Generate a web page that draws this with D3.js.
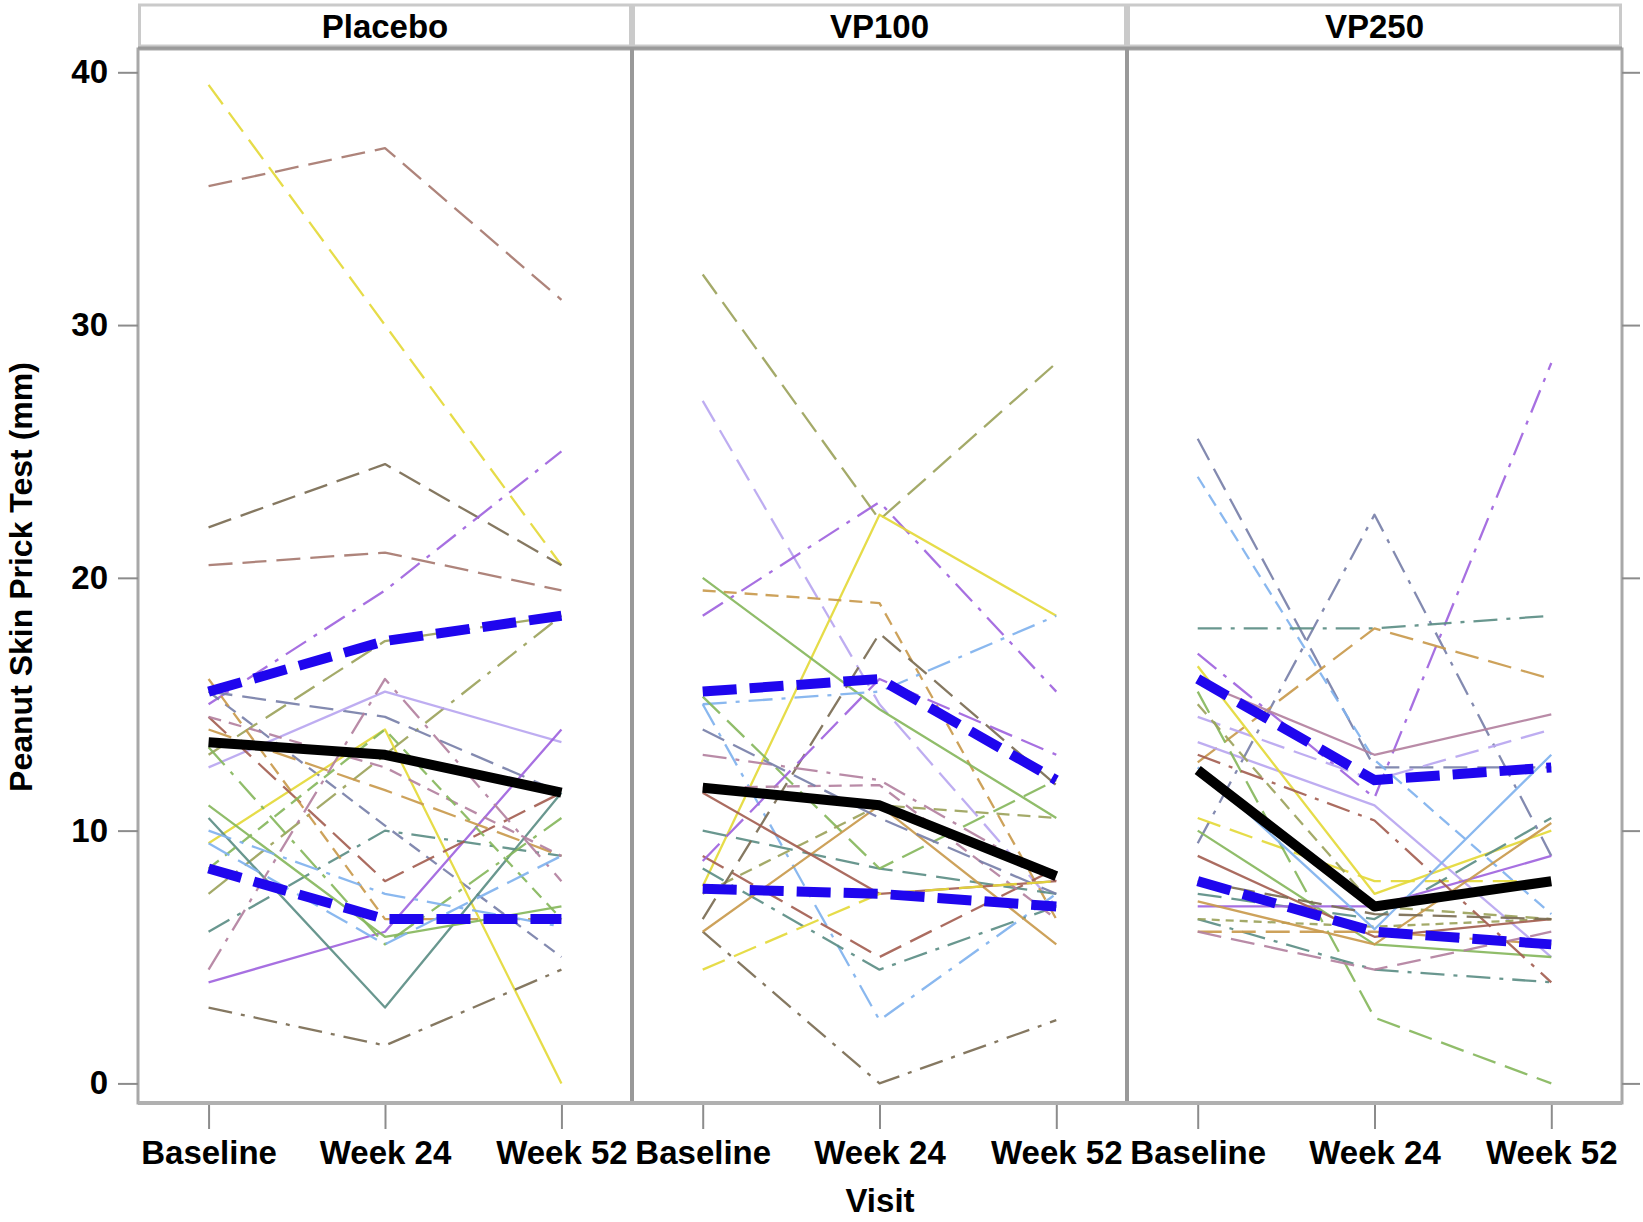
<!DOCTYPE html>
<html>
<head>
<meta charset="utf-8">
<script src="https://cdn.jsdelivr.net/npm/d3@7"></script>
<style>
  html, body { margin: 0; padding: 0; background: #fff; }
  svg { display: block; }
  text { font-family: "Liberation Sans", Arial, Helvetica, sans-serif; font-weight: bold; fill: #000; }
</style>
</head>
<body>
<svg id="chart" width="1643" height="1222"></svg>
<script>
// ---------------- DATA ----------------
const visits = ["Baseline", "Week 24", "Week 52"];
const groups = ["Placebo", "VP100", "VP250"];
const yTicks = [0, 10, 20, 30, 40];
const yTitle = "Peanut Skin Prick Test (mm)";
const xTitle = "Visit";

// individual subjects (Baseline, Week 24, Week 52)
const placeboSubjects = [
  [39.5, 30, 20.5], [35.5, 37, 31], [22, 24.5, 20.5], [15, 19.5, 25], [20.5, 21, 19.5],
  [13, 17.5, 18.5], [7.5, 13, 18.5], [15.5, 14.5, 11.5], [15.5, 10.2, 5], [12.5, 15.5, 13.5],
  [9.5, 14, 0], [4, 6, 14], [10.5, 3, 11.5], [6, 10, 9], [14.5, 8, 11.5],
  [14, 11.6, 9], [16, 6.5, 6.5], [4.5, 16, 8], [14.5, 12.5, 9], [13.3, 5.5, 10.5],
  [8.5, 14, 6.5], [11, 5.8, 7], [10, 7.5, 6.2], [9.5, 5.5, 9], [3, 1.5, 4.5]
];
const vp100Subjects = [
  [32, 22.3, 28.5], [27, 15, 7], [18.5, 23, 15.5], [7.8, 22.5, 18.5], [19.5, 19, 6.5],
  [20, 14.8, 10.5], [15, 15.5, 18.5], [6, 0, 2.5], [15, 2.5, 7.5], [8.5, 4.5, 7],
  [9, 5, 8.5], [10, 8.5, 7.5], [15.3, 8.5, 12], [7.5, 11, 10.5], [6, 11, 5.5],
  [6.5, 17.8, 11.8], [8.8, 16, 13], [13, 12, 8], [11.7, 11.8, 6.5], [14, 10.5, 7.5],
  [11.5, 7.5, 8], [4.5, 7.5, 8]
];
const vp250Subjects = [
  [25.5, 12.5, 12.5], [9.5, 22.5, 9], [17, 11.3, 28.5], [24, 12.8, 6.7], [18, 18, 18.5],
  [12.7, 18, 16], [15.9, 13, 14.6], [14.5, 12, 14], [13.5, 11, 5], [16.5, 7.5, 10],
  [10.5, 8, 8], [10, 5.5, 5], [15.5, 2.6, 0], [15, 7, 6.5], [6.5, 4.5, 4],
  [7.5, 6.5, 10.5], [7, 7, 9], [6.5, 6.2, 6.5], [6, 6, 5.5], [6, 4.5, 6],
  [13, 10.4, 4], [9, 5.8, 6.5], [12.5, 6.1, 13], [7.2, 5.5, 10.3], [8, 6.7, 6.5]
];

// group summaries: mean, lower quartile, upper quartile
const placeboMean = [13.5, 13, 11.5];
const placeboQ1 = [8.5, 6.5, 6.5];
const placeboQ3 = [15.5, 17.5, 18.5];
const vp100Mean = [11.7, 11, 8.2];
const vp100Q1 = [7.7, 7.5, 7];
const vp100Q3 = [15.5, 16, 12];
const vp250Mean = [12.4, 7, 8];
const vp250Q1 = [8, 6, 5.5];
const vp250Q3 = [16, 12, 12.5];

// ---------------- STYLES (kept apart from values) ----------------
const palette = {
  yellow: "#e4d93a", rosy: "#a77970", dkolive: "#7b6c54", purple: "#a064de",
  lavender: "#b9a6f0", slate: "#7880a9", teal: "#5c8e85", ltblue: "#80b2ee",
  green: "#87b75d", olive: "#9ca35c", gold: "#c99a4d", mauve: "#b3819f", redbrown: "#a45f53"
};
const dashes = {
  solid: null, long: "24,10", dash: "13,8", short: "8,6", dashdot: "24,9,4,9"
};
const placeboStyles = [
  ["yellow","long"],["rosy","long"],["dkolive","long"],["purple","dashdot"],["rosy","long"],
  ["olive","long"],["olive","dashdot"],["slate","long"],["slate","dash"],["lavender","solid"],
  ["yellow","solid"],["purple","solid"],["teal","solid"],["teal","dashdot"],["redbrown","long"],
  ["gold","long"],["gold","dash"],["mauve","dashdot"],["mauve","dash"],["green","dashdot"],
  ["green","dash"],["green","solid"],["ltblue","dashdot"],["ltblue","long"],["dkolive","dashdot"]
];
const vp100Styles = [
  ["olive","long"],["lavender","long"],["purple","dashdot"],["yellow","solid"],["gold","dash"],
  ["green","solid"],["ltblue","dashdot"],["dkolive","dashdot"],["ltblue","dashdot"],["teal","dashdot"],
  ["redbrown","long"],["teal","long"],["green","long"],["olive","dash"],["gold","solid"],
  ["dkolive","long"],["purple","long"],["mauve","dashdot"],["mauve","dash"],["slate","long"],
  ["redbrown","solid"],["yellow","long"]
];
const vp250Styles = [
  ["slate","long"],["slate","dashdot"],["purple","dashdot"],["ltblue","dash"],["teal","dashdot"],
  ["gold","long"],["mauve","solid"],["lavender","long"],["lavender","solid"],["yellow","solid"],
  ["yellow","long"],["green","solid"],["green","long"],["olive","dash"],["teal","dashdot"],
  ["teal","long"],["purple","solid"],["olive","short"],["gold","long"],["mauve","long"],
  ["redbrown","dashdot"],["redbrown","solid"],["ltblue","solid"],["gold","solid"],["dkolive","long"]
];

const panelData = [
  { name: groups[0], subjects: placeboSubjects, styles: placeboStyles, mean: placeboMean, q1: placeboQ1, q3: placeboQ3 },
  { name: groups[1], subjects: vp100Subjects, styles: vp100Styles, mean: vp100Mean, q1: vp100Q1, q3: vp100Q3 },
  { name: groups[2], subjects: vp250Subjects, styles: vp250Styles, mean: vp250Mean, q1: vp250Q1, q3: vp250Q3 }
];

// ---------------- LAYOUT ----------------
const svg = d3.select("#chart");
const panelEdges = [138, 632, 1127, 1622];
const headerTop = 5, headerBottom = 46;
const plotTop = 49, plotBottom = 1103;

const y = d3.scaleLinear().domain([0, 40]).range([1083.4, 72.3]);

// panel headers
panelData.forEach((p, i) => {
  const x0 = panelEdges[i], x1 = panelEdges[i + 1];
  svg.append("rect")
    .attr("x", x0 + 1.5).attr("y", headerTop).attr("width", x1 - x0 - 3).attr("height", headerBottom - headerTop)
    .attr("fill", "#fff").attr("stroke", "#cacaca").attr("stroke-width", 3);
  svg.append("text")
    .attr("x", (x0 + x1) / 2).attr("y", 38)
    .attr("text-anchor", "middle").style("font-size", "33px")
    .text(p.name);
});

const plotG = svg.append("g");

panelData.forEach((p, i) => {
  const x0 = panelEdges[i], x1 = panelEdges[i + 1];
  const x = d3.scalePoint().domain(visits).range([x0, x1]).padding(0.4);
  const g = plotG.append("g");
  const line = d3.line()
    .defined(d => d[1] != null)
    .x(d => x(d[0])).y(d => y(d[1]));

  // subject lines
  p.subjects.forEach((vals, k) => {
    const st = p.styles[k];
    g.append("path")
      .datum(visits.map((v, j) => [v, vals[j]]))
      .attr("d", line)
      .attr("fill", "none")
      .attr("stroke", palette[st[0]])
      .attr("stroke-width", 2.3)
      .attr("stroke-opacity", 0.92)
      .attr("stroke-dasharray", dashes[st[1]])
      .attr("stroke-linejoin", "round");
  });

  // quartile lines (blue dashed)
  [p.q1, p.q3].forEach(vals => {
    g.append("path")
      .datum(visits.map((v, j) => [v, vals[j]]))
      .attr("d", line)
      .attr("fill", "none")
      .attr("stroke", "#1f06ee")
      .attr("stroke-width", 10)
      .attr("stroke-dasharray", "34,13");
  });
  // mean line (black)
  g.append("path")
    .datum(visits.map((v, j) => [v, p.mean[j]]))
    .attr("d", line)
    .attr("fill", "none")
    .attr("stroke", "#000")
    .attr("stroke-width", 10)
    .attr("stroke-linejoin", "round");

  // bottom axis for this panel
  const ax = svg.append("g")
    .attr("transform", `translate(0,${plotBottom})`)
    .call(d3.axisBottom(x).tickSize(26).tickPadding(12));
  ax.select(".domain").remove();
  ax.selectAll(".tick line").attr("stroke", "#8c8c8c").attr("stroke-width", 2);
  ax.selectAll(".tick text").style("font-size", "33px").attr("fill", "#000");

  // panel frame
  svg.append("rect")
    .attr("x", x0).attr("y", plotTop).attr("width", x1 - x0).attr("height", plotBottom - plotTop)
    .attr("fill", "none").attr("stroke", "#a8a8a8").attr("stroke-width", 3);
});

// header/plot separator
svg.append("line").attr("x1", panelEdges[0]).attr("x2", panelEdges[3])
  .attr("y1", plotTop - 1).attr("y2", plotTop - 1)
  .attr("stroke", "#9a9a9a").attr("stroke-width", 3);
// panel dividers
[panelEdges[1], panelEdges[2]].forEach(px => {
  svg.append("line").attr("x1", px).attr("x2", px).attr("y1", plotTop).attr("y2", plotBottom)
    .attr("stroke", "#999").attr("stroke-width", 4);
});
// bottom frame line
svg.append("line").attr("x1", panelEdges[0]).attr("x2", panelEdges[3])
  .attr("y1", plotBottom).attr("y2", plotBottom)
  .attr("stroke", "#b0b0b0").attr("stroke-width", 4);

// left axis
const ay = svg.append("g")
  .attr("transform", `translate(${panelEdges[0]},0)`)
  .call(d3.axisLeft(y).tickValues(yTicks).tickSize(20).tickPadding(10));
ay.select(".domain").remove();
ay.selectAll(".tick line").attr("stroke", "#8c8c8c").attr("stroke-width", 2);
ay.selectAll(".tick text").style("font-size", "33px").attr("fill", "#000");

// right axis (ticks only)
const ar = svg.append("g")
  .attr("transform", `translate(${panelEdges[3]},0)`)
  .call(d3.axisRight(y).tickValues(yTicks).tickSize(18).tickFormat(""));
ar.select(".domain").remove();
ar.selectAll(".tick line").attr("stroke", "#8c8c8c").attr("stroke-width", 2);

// axis titles
svg.append("text")
  .attr("transform", "translate(32,577) rotate(-90)")
  .attr("text-anchor", "middle").style("font-size", "32px")
  .text(yTitle);
svg.append("text")
  .attr("x", (panelEdges[0] + panelEdges[3]) / 2).attr("y", 1212)
  .attr("text-anchor", "middle").style("font-size", "33px")
  .text(xTitle);
</script>
</body>
</html>
